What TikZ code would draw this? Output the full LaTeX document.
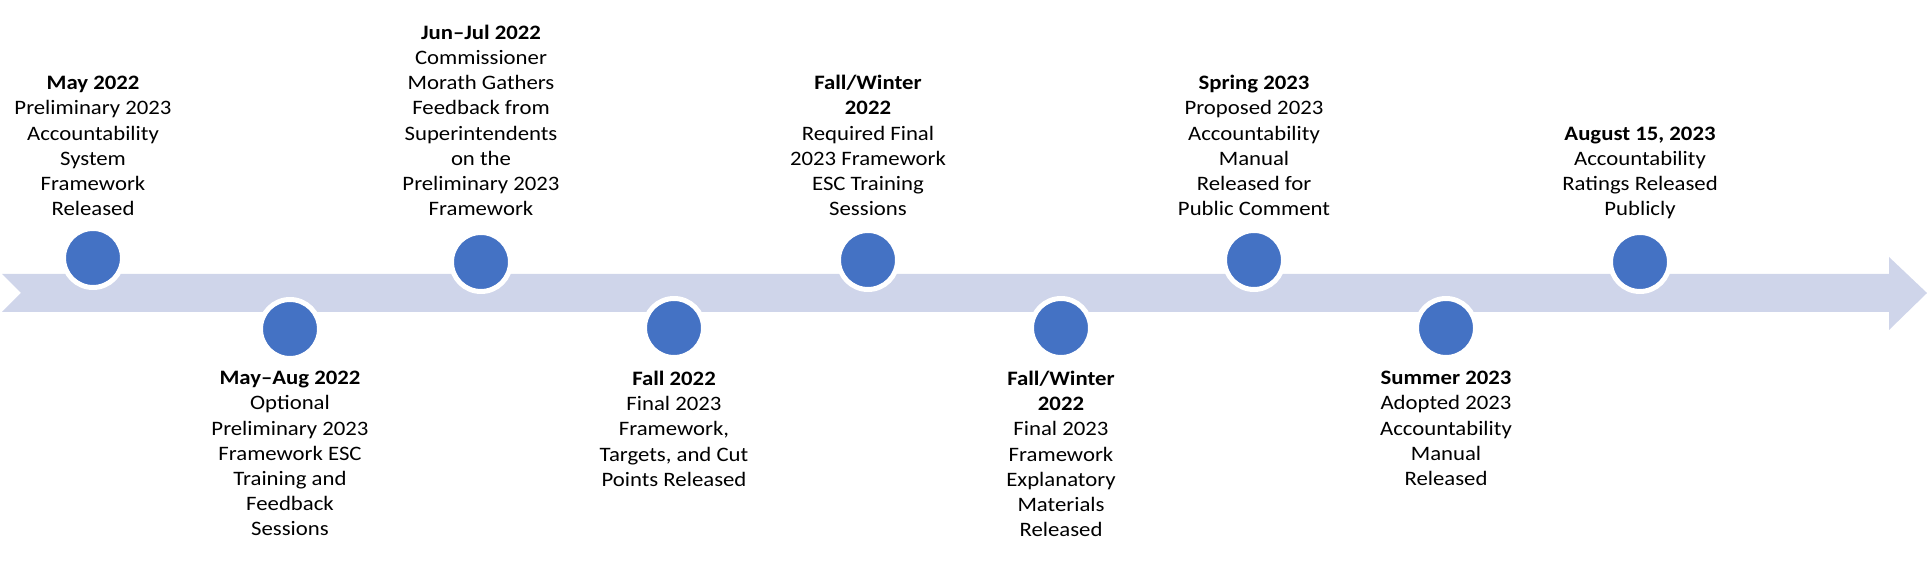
\documentclass[tikz,border=0pt]{standalone}
\usepackage{fontspec}
\setmainfont{Carlito}[FakeStretch=1.11]
\usepackage{tikz}
\definecolor{dotblue}{HTML}{4472C4}
\definecolor{bandblue}{HTML}{CFD5EA}

\begin{document}
\begin{tikzpicture}[x=1pt, y=1pt,
		dot/.style={circle, fill=dotblue, draw=white, line width=5pt, minimum size=59pt, inner sep=0pt},
		lbl/.style={align=center, inner sep=0pt, font=\fontsize{20.5}{25.2}\selectfont},
		toplbl/.style={lbl, anchor=south, text depth=0pt},
		botlbl/.style={lbl, anchor=north}]
						\useasboundingbox (0,0) rectangle (1927,586);
						\fill[bandblue] (2,312) -- (1889,312) -- (1889,329) -- (1927,293) -- (1889,256) -- (1889,274) -- (2,274) -- (21,293) -- cycle;
						\node[dot] (c1) at (93,328) {};
						\node[dot] (c2) at (290,257) {};
						\node[dot] (c3) at (481,324) {};
						\node[dot] (c4) at (674,258) {};
						\node[dot] (c5) at (868,326) {};
						\node[dot] (c6) at (1061,258) {};
						\node[dot] (c7) at (1254,326) {};
						\node[dot] (c8) at (1446,258) {};
						\node[dot] (c9) at (1640,324) {};
						\node[toplbl] (l1) at (93,370) {\textbf{May 2022}\\Preliminary 2023\\Accountability\\System\\Framework\\Released};
						\node[botlbl] (l2) at (290,215) {\textbf{May–Aug 2022}\\Optional\\Preliminary 2023\\Framework ESC\\Training and\\Feedback\\Sessions};
						\node[toplbl] (l3) at (481,370) {\textbf{Jun–Jul 2022}\\Commissioner\\Morath Gathers\\Feedback from\\Superintendents\\on the\\Preliminary 2023\\Framework};
						\node[botlbl] (l4) at (674,215) {\textbf{Fall 2022}\\Final 2023\\Framework,\\Targets, and Cut\\Points Released};
						\node[toplbl] (l5) at (868,370) {\textbf{Fall/Winter}\\\textbf{2022}\\Required Final\\2023 Framework\\ESC Training\\Sessions};
						\node[botlbl] (l6) at (1061,215) {\textbf{Fall/Winter}\\\textbf{2022}\\Final 2023\\Framework\\Explanatory\\Materials\\Released};
						\node[toplbl] (l7) at (1254,370) {\textbf{Spring 2023}\\Proposed 2023\\Accountability\\Manual\\Released for\\Public Comment};
						\node[botlbl] (l8) at (1446,215) {\textbf{Summer 2023}\\Adopted 2023\\Accountability\\Manual\\Released};
						\node[toplbl] (l9) at (1640,370) {\textbf{August 15, 2023}\\Accountability\\Ratings Released\\Publicly};
				\end{tikzpicture}
\end{document}
